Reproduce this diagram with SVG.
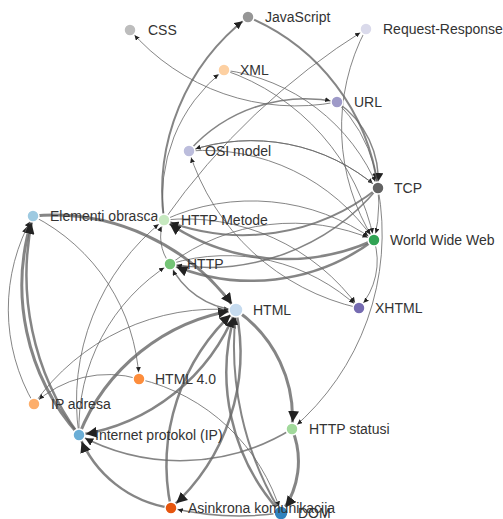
<svg xmlns="http://www.w3.org/2000/svg" width="503" height="519" viewBox="0 0 503 519">
<style>
.link{fill:none;stroke:#666;stroke-opacity:.8}
.w1{stroke-width:1}
.w15{stroke-width:1.5}
.w2{stroke-width:2}
.w25{stroke-width:2.5}
.w3{stroke-width:3}
.node circle{stroke:#fff;stroke-width:1.5}
.node text{font-family:"Liberation Sans",Arial,sans-serif;font-size:14px;fill:#333}
</style>
<defs>
<marker id="a1" viewBox="0 -5 10 10" refX="24" refY="0" markerWidth="5" markerHeight="5" markerUnits="userSpaceOnUse" orient="auto"><path d="M0,-5L10,0L0,5" fill="#222"/></marker>
<marker id="a2" viewBox="0 -5 10 10" refX="18.75" refY="0" markerWidth="8" markerHeight="8" markerUnits="userSpaceOnUse" orient="auto"><path d="M0,-5L10,0L0,5" fill="#222"/></marker>
<marker id="a3" viewBox="0 -5 10 10" refX="16.4" refY="0" markerWidth="11" markerHeight="11" markerUnits="userSpaceOnUse" orient="auto"><path d="M0,-5L10,0L0,5" fill="#222"/></marker>
</defs>
<g id="links">
<path class="link w1" marker-end="url(#a1)" d="M337,102A219,219 0 0,1 130,30"/>
<path class="link w2" marker-end="url(#a2)" d="M164,220A220,220 0 0,1 248,17"/>
<path class="link w1" marker-end="url(#a1)" d="M164,220A162,162 0 0,1 224,70"/>
<path class="link w2" marker-end="url(#a2)" d="M248,17A215,215 0 0,1 378,188"/>
<path class="link w1" marker-end="url(#a1)" d="M164,220A700,700 0 0,1 366,29"/>
<path class="link w15" marker-end="url(#a1)" d="M189,151A156,156 0 0,1 337,102"/>
<path class="link w1" marker-end="url(#a1)" d="M224,70A194,194 0 0,1 378,188"/>
<path class="link w1" marker-end="url(#a1)" d="M224,70A227,227 0 0,1 374,240"/>
<path class="link w15" marker-end="url(#a2)" d="M337,102A95,95 0 0,1 378,188"/>
<path class="link w1" marker-end="url(#a1)" d="M337,102A143,143 0 0,1 374,240"/>
<path class="link w1" marker-end="url(#a1)" d="M366,29A211,211 0 0,0 374,240"/>
<path class="link w25" marker-end="url(#a3)" d="M374,240A211,211 0 0,1 164,220"/>
<path class="link w1" marker-end="url(#a1)" d="M164,220A211,211 0 0,1 374,240"/>
<path class="link w25" marker-end="url(#a3)" d="M374,240A205,205 0 0,1 170,264"/>
<path class="link w1" marker-end="url(#a1)" d="M170,264A205,205 0 0,1 374,240"/>
<path class="link w2" marker-end="url(#a2)" d="M378,188A216,216 0 0,1 164,220"/>
<path class="link w15" marker-end="url(#a1)" d="M378,188A221,221 0 0,1 170,264"/>
<path class="link w1" marker-end="url(#a1)" d="M189,151A205,205 0 0,1 374,240"/>
<path class="link w1" marker-end="url(#a1)" d="M189,151A193,193 0 0,1 378,188"/>
<path class="link w1" marker-end="url(#a1)" d="M378,188A193,193 0 0,0 189,151"/>
<path class="link w1" marker-end="url(#a1)" d="M359,308A231,231 0 0,1 189,151"/>
<path class="link w1" marker-end="url(#a1)" d="M164,220A214,214 0 0,1 359,308"/>
<path class="link w1" marker-end="url(#a1)" d="M170,264A194,194 0 0,1 359,308"/>
<path class="link w1" marker-end="url(#a1)" d="M374,240A70,70 0 0,1 359,308"/>
<path class="link w1" marker-end="url(#a1)" d="M378,188A256,256 0 0,1 292,429"/>
<path class="link w3" marker-end="url(#a3)" d="M33,216A224,224 0 0,1 236,310"/>
<path class="link w1" marker-end="url(#a1)" d="M33,216A194,194 0 0,1 139,379"/>
<path class="link w3" marker-end="url(#a3)" d="M79,435A224,224 0 0,1 33,216"/>
<path class="link w25" marker-end="url(#a3)" d="M79,435A270,270 0 0,1 33,216"/>
<path class="link w1" marker-end="url(#a1)" d="M34,404A188,188 0 0,1 33,216"/>
<path class="link w3" marker-end="url(#a3)" d="M79,435A201,201 0 0,1 236,310"/>
<path class="link w25" marker-end="url(#a3)" d="M236,310A201,201 0 0,1 79,435"/>
<path class="link w1" marker-end="url(#a1)" d="M79,435A231,231 0 0,1 164,220"/>
<path class="link w1" marker-end="url(#a1)" d="M79,435A194,194 0 0,1 170,264"/>
<path class="link w25" marker-end="url(#a3)" d="M171,508A117,117 0 0,1 79,435"/>
<path class="link w25" marker-end="url(#a3)" d="M236,310A208,208 0 0,1 171,508"/>
<path class="link w25" marker-end="url(#a3)" d="M171,508A208,208 0 0,1 236,310"/>
<path class="link w3" marker-end="url(#a3)" d="M236,310A131,131 0 0,1 292,429"/>
<path class="link w3" marker-end="url(#a3)" d="M292,429A85,85 0 0,1 281,513"/>
<path class="link w25" marker-end="url(#a3)" d="M281,513A208,208 0 0,1 236,310"/>
<path class="link w2" marker-end="url(#a2)" d="M281,513A320,320 0 0,1 236,310"/>
<path class="link w15" marker-end="url(#a2)" d="M292,429A213,213 0 0,1 79,435"/>
<path class="link w15" marker-end="url(#a1)" d="M281,513A300,300 0 0,1 171,508"/>
<path class="link w1" marker-end="url(#a1)" d="M139,379A195,195 0 0,1 281,513"/>
<path class="link w1" marker-end="url(#a1)" d="M34,404A223,223 0 0,1 236,310"/>
<path class="link w1" marker-end="url(#a1)" d="M139,379A108,108 0 0,0 34,404"/>
<path class="link w15" marker-end="url(#a1)" d="M236,310A80,80 0 0,1 170,264"/>
<path class="link w1" marker-end="url(#a1)" d="M170,264A44,44 0 0,1 164,220"/>
</g>
<g id="node-css" class="node"><circle cx="130" cy="30" r="6" fill="#bdbdbd"/><text x="148" y="35">CSS</text></g>
<g id="node-javascript" class="node"><circle cx="248" cy="17" r="6" fill="#969696"/><text x="265" y="22">JavaScript</text></g>
<g id="node-request-response" class="node"><circle cx="366" cy="29" r="6" fill="#dadaeb"/><text x="383" y="34">Request-Response</text></g>
<g id="node-xml" class="node"><circle cx="224" cy="70" r="6" fill="#fdd0a2"/><text x="240" y="75">XML</text></g>
<g id="node-url" class="node"><circle cx="337" cy="102" r="6" fill="#9e9ac8"/><text x="354" y="107">URL</text></g>
<g id="node-osi" class="node"><circle cx="189" cy="151" r="6" fill="#bcbddc"/><text x="205" y="156">OSI model</text></g>
<g id="node-tcp" class="node"><circle cx="378" cy="188" r="6" fill="#636363"/><text x="394" y="193">TCP</text></g>
<g id="node-elementi" class="node"><circle cx="33" cy="216" r="6" fill="#9ecae1"/><text x="50" y="221">Elementi obrasca</text></g>
<g id="node-http-metode" class="node"><circle cx="164" cy="220" r="6" fill="#c7e9c0"/><text x="181" y="225">HTTP Metode</text></g>
<g id="node-www" class="node"><circle cx="374" cy="240" r="6" fill="#31a354"/><text x="390" y="245">World Wide Web</text></g>
<g id="node-http" class="node"><circle cx="170" cy="264" r="6" fill="#74c476"/><text x="187" y="269">HTTP</text></g>
<g id="node-html" class="node"><circle cx="236" cy="310" r="7" fill="#c6dbef"/><text x="253" y="315">HTML</text></g>
<g id="node-xhtml" class="node"><circle cx="359" cy="308" r="6" fill="#756bb1"/><text x="375" y="313">XHTML</text></g>
<g id="node-html4" class="node"><circle cx="139" cy="379" r="6" fill="#fd8d3c"/><text x="155" y="384">HTML 4.0</text></g>
<g id="node-ip-adresa" class="node"><circle cx="34" cy="404" r="6" fill="#fdae6b"/><text x="51" y="409">IP adresa</text></g>
<g id="node-ip" class="node"><circle cx="79" cy="435" r="6" fill="#6baed6"/><text x="95" y="440">Internet protokol (IP)</text></g>
<g id="node-http-statusi" class="node"><circle cx="292" cy="429" r="6" fill="#a1d99b"/><text x="309" y="434">HTTP statusi</text></g>
<g id="node-dom" class="node"><circle cx="281" cy="513" r="7" fill="#3182bd"/><text x="298" y="518">DOM</text></g>
<g id="node-asinkrona" class="node"><circle cx="171" cy="508" r="6" fill="#e6550d"/><text x="188" y="513">Asinkrona komunikacija</text></g>
</svg>
